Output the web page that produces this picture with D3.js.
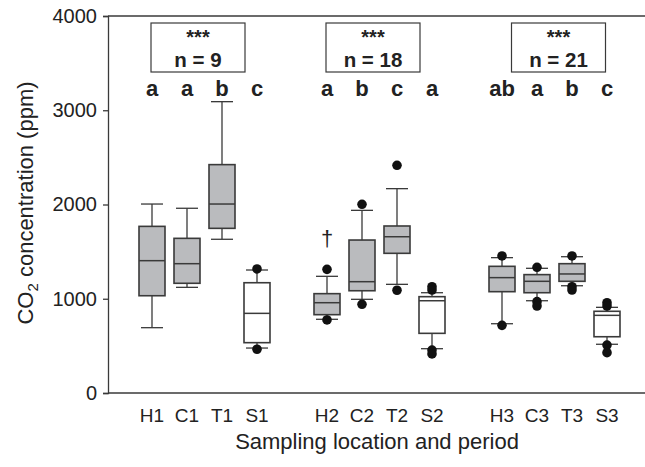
<!DOCTYPE html>
<html><head><meta charset="utf-8">
<script src="https://cdn.jsdelivr.net/npm/d3@7"></script>
<style>body{margin:0;background:#fff}svg{display:block;font-family:"Liberation Sans",Arial,sans-serif}</style>
</head><body><svg id="c" width="645" height="467"></svg>
<script>
const categories = ["H1","C1","T1","S1","H2","C2","T2","S2","H3","C3","T3","S3"];
const slots      = [0,1,2,3,5,6,7,8,10,11,12,13];
const whiskerLow = [693,1121,1631,477, 782,994,1153,470, 735,979,1138,517];
const q1         = [1032,1164,1747,534, 831,1085,1482,633, 1075,1064,1185,597];
const median     = [1404,1372,2005,845, 958,1181,1658,979, 1224,1185,1263,824];
const q3         = [1768,1641,2423,1170, 1054,1623,1772,1022, 1344,1256,1372,867];
const whiskerHigh= [2005,1960,3091,1305, 1238,1938,2168,1064, 1436,1323,1446,909];
const outliers   = [[],[],[],[1316,464], [1312,775],[2002,941],[2416,1090],[1128,1093,456,414], [1454,718],[1334,969,923],[1454,1128,1093],[958,923,509,428]];
const filled     = [true,true,true,false, true,true,true,false, true,true,true,false];
const letters    = ["a","a","b","c","a","b","c","a","ab","a","b","c"];
const groupN     = ["n = 9","n = 18","n = 21"];
const groupSig   = ["***","***","***"];
const yTicks     = [0,1000,2000,3000,4000];

const svg = d3.select("#c");
const y = d3.scaleLinear().domain([0,4000]).range([393,16]);
const x = d3.scaleLinear().domain([0,13]).range([152,607]);
const ink = "#3a3a3a", txt = "#222";
const boxW = 26, capW = 22;

// axes
const yAxis = d3.axisLeft(y).tickValues(yTicks).tickSize(5).tickPadding(6).tickFormat(d3.format("d"));
const gy = svg.append("g").attr("transform","translate(108,0)").call(yAxis);
gy.select(".domain").attr("stroke",ink).attr("stroke-width",1.3);
gy.selectAll(".tick line").attr("stroke",ink).attr("stroke-width",1.3);
gy.selectAll(".tick text").attr("font-size",20).attr("fill",txt).attr("font-family","Liberation Sans, Arial, sans-serif");
// top & bottom frame lines
svg.append("line").attr("x1",108).attr("x2",645).attr("y1",y(4000)).attr("y2",y(4000)).attr("stroke",ink).attr("stroke-width",1.3);
svg.append("line").attr("x1",108).attr("x2",645).attr("y1",y(0)).attr("y2",y(0)).attr("stroke",ink).attr("stroke-width",1.3);

// x labels
svg.append("g").selectAll("text").data(categories).join("text")
  .attr("x",(d,i)=>x(slots[i])).attr("y",422).attr("text-anchor","middle")
  .attr("font-size",19).attr("fill",txt).text(d=>d);
svg.append("text").attr("x",377).attr("y",449).attr("text-anchor","middle").attr("font-size",22).attr("fill",txt)
  .text("Sampling location and period");
const yt = svg.append("text").attr("transform","translate(33,203) rotate(-90)").attr("text-anchor","middle").attr("font-size",22).attr("fill",txt);
yt.append("tspan").text("CO");
yt.append("tspan").attr("font-size",15).attr("dy",5).text("2");
yt.append("tspan").attr("dy",-5).text(" concentration (ppm)");

// boxes
const g = svg.append("g").selectAll("g").data(categories).join("g");
g.append("line").attr("x1",(d,i)=>x(slots[i])).attr("x2",(d,i)=>x(slots[i]))
  .attr("y1",(d,i)=>y(whiskerLow[i])).attr("y2",(d,i)=>y(whiskerHigh[i])).attr("stroke",ink).attr("stroke-width",1.3);
g.append("line").attr("x1",(d,i)=>x(slots[i])-capW/2).attr("x2",(d,i)=>x(slots[i])+capW/2)
  .attr("y1",(d,i)=>y(whiskerLow[i])).attr("y2",(d,i)=>y(whiskerLow[i])).attr("stroke",ink).attr("stroke-width",1.3);
g.append("line").attr("x1",(d,i)=>x(slots[i])-capW/2).attr("x2",(d,i)=>x(slots[i])+capW/2)
  .attr("y1",(d,i)=>y(whiskerHigh[i])).attr("y2",(d,i)=>y(whiskerHigh[i])).attr("stroke",ink).attr("stroke-width",1.3);
g.append("rect").attr("x",(d,i)=>x(slots[i])-boxW/2).attr("width",boxW)
  .attr("y",(d,i)=>y(q3[i])).attr("height",(d,i)=>y(q1[i])-y(q3[i]))
  .attr("fill",(d,i)=>filled[i]?"#babbbe":"#fff").attr("stroke",ink).attr("stroke-width",1.6);
g.append("line").attr("x1",(d,i)=>x(slots[i])-boxW/2).attr("x2",(d,i)=>x(slots[i])+boxW/2)
  .attr("y1",(d,i)=>y(median[i])).attr("y2",(d,i)=>y(median[i])).attr("stroke",ink).attr("stroke-width",1.5);
g.each(function(d,i){
  d3.select(this).selectAll("circle").data(outliers[i]).join("circle")
    .attr("cx",x(slots[i])).attr("cy",v=>y(v)).attr("r",4.8).attr("fill","#111");
});

// letters
svg.append("g").selectAll("text").data(letters).join("text")
  .attr("x",(d,i)=>x(slots[i])).attr("y",96).attr("text-anchor","middle")
  .attr("font-size",22).attr("font-weight","bold").attr("fill",txt).text(d=>d);

// group annotation boxes
const centers = [198,373,558.5];
const ann = svg.append("g").selectAll("g").data(groupN).join("g");
ann.append("rect").attr("x",(d,i)=>centers[i]-47).attr("y",23).attr("width",94).attr("height",49)
  .attr("fill","#fff").attr("stroke",ink).attr("stroke-width",1.2);
ann.append("text").attr("x",(d,i)=>centers[i]).attr("y",43.5).attr("text-anchor","middle")
  .attr("font-size",20).attr("font-weight","bold").attr("fill",txt).text((d,i)=>groupSig[i]);
ann.append("text").attr("x",(d,i)=>centers[i]).attr("y",66.5).attr("text-anchor","middle")
  .attr("font-size",20.5).attr("font-weight","bold").attr("fill",txt).text(d=>d);

// dagger on H2
svg.append("text").attr("x",x(slots[4])).attr("y",246).attr("text-anchor","middle")
  .attr("font-size",22).attr("fill",txt).text("†");
</script></body></html>
